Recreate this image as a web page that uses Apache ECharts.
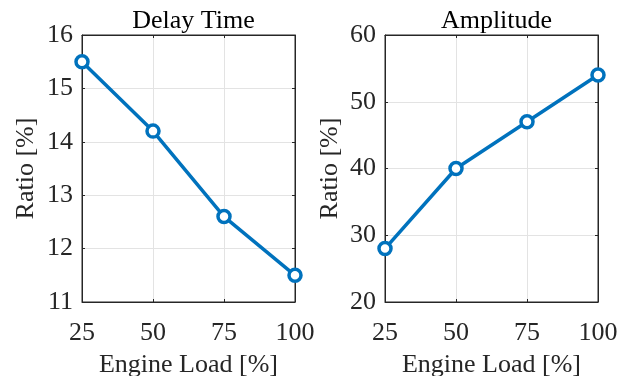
<!DOCTYPE html>
<html>
<head>
<meta charset="utf-8">
<script src="https://cdn.jsdelivr.net/npm/echarts@6/dist/echarts.min.js"></script>
<style>
  html, body { margin: 0; padding: 0; background: #fff; }
  #chart { width: 619px; height: 376px; }
</style>
</head>
<body>
<div id="chart"></div>
<script>
// Engine load levels and the two measured ratios
const engineLoad = [25, 50, 75, 100];
const delayTime = [15.5, 14.2, 12.6, 11.5];
const amplitude = [28, 40, 47, 54];
const xTicks = [25, 50, 75, 100];
const titles = ['Delay Time', 'Amplitude'];
const xName = 'Engine Load [%]';
const yName = 'Ratio [%]';

const FONT = '"Liberation Serif", "Times New Roman", serif';
const AX = '#262626';
const BLUE = '#0072BD';
const FS = 26;

const grids = [
  { left: 82, top: 35, width: 213, height: 267 },
  { left: 385, top: 35, width: 213, height: 267 }
];
const yRanges = [
  { min: 11, max: 16, interval: 1 },
  { min: 20, max: 60, interval: 10 }
];

const xAxes = [], yAxes = [], series = [], titleArr = [];

grids.forEach((g, i) => {
  g.show = true;
  g.borderColor = AX;
  g.borderWidth = 1;
  g.backgroundColor = '#fff';
  g.containLabel = false;
  g.outerBoundsMode = 'none';

  // bottom axis with labels
  xAxes.push({
    type: 'value', gridIndex: i, min: 25, max: 100, interval: 25,
    position: 'bottom',
    name: xName, nameLocation: 'middle', nameGap: 50,
    nameTextStyle: { fontFamily: FONT, fontSize: FS, color: AX },
    axisLine: { show: true, lineStyle: { color: AX, width: 1 } },
    axisTick: { show: true, inside: true, length: 3, lineStyle: { color: AX } },
    axisLabel: { fontFamily: FONT, fontSize: FS, color: AX, margin: 18,
      formatter: v => xTicks.includes(v) ? String(v) : '' },
    splitLine: { show: true, lineStyle: { color: '#e3e3e3', width: 1 } }
  });
  // top axis: ticks only
  xAxes.push({
    type: 'value', gridIndex: i, min: 25, max: 100, interval: 25,
    position: 'top',
    axisLine: { show: true, lineStyle: { color: AX, width: 1 } },
    axisTick: { show: true, inside: true, length: 3, lineStyle: { color: AX } },
    axisLabel: { show: false }, splitLine: { show: false }
  });

  const r = yRanges[i];
  yAxes.push({
    type: 'value', gridIndex: i, min: r.min, max: r.max, interval: r.interval,
    position: 'left',
    name: yName, nameLocation: 'middle', nameGap: i === 0 ? 43 : 42,
    nameTextStyle: { fontFamily: FONT, fontSize: FS, color: AX },
    axisLine: { show: true, lineStyle: { color: AX, width: 1 } },
    axisTick: { show: true, inside: true, length: 3, lineStyle: { color: AX } },
    axisLabel: { fontFamily: FONT, fontSize: FS, color: AX, margin: 9 },
    splitLine: { show: true, lineStyle: { color: '#e3e3e3', width: 1 } }
  });
  yAxes.push({
    type: 'value', gridIndex: i, min: r.min, max: r.max, interval: r.interval,
    position: 'right',
    axisLine: { show: true, lineStyle: { color: AX, width: 1 } },
    axisTick: { show: true, inside: true, length: 3, lineStyle: { color: AX } },
    axisLabel: { show: false }, splitLine: { show: false }
  });

  titleArr.push({
    text: titles[i],
    left: g.left + g.width / 2, top: 3, textAlign: 'center',
    textStyle: { fontFamily: FONT, fontSize: FS, fontWeight: 'normal', color: '#000' }
  });
});

const seriesData = [delayTime, amplitude];
seriesData.forEach((vals, i) => {
  series.push({
    type: 'line', xAxisIndex: i * 2, yAxisIndex: i * 2,
    data: engineLoad.map((x, k) => [x, vals[k]]),
    lineStyle: { color: BLUE, width: 3.5 },
    symbol: 'circle', symbolSize: 12,
    itemStyle: { color: '#fff', borderColor: BLUE, borderWidth: 3.5 },
    clip: false, z: 5
  });
});

const chart = echarts.init(document.getElementById('chart'), null, { renderer: 'canvas' });
chart.setOption({
  animation: false,
  backgroundColor: '#fff',
  title: titleArr,
  grid: grids,
  xAxis: xAxes,
  yAxis: yAxes,
  series: series
});
</script>
</body>
</html>
